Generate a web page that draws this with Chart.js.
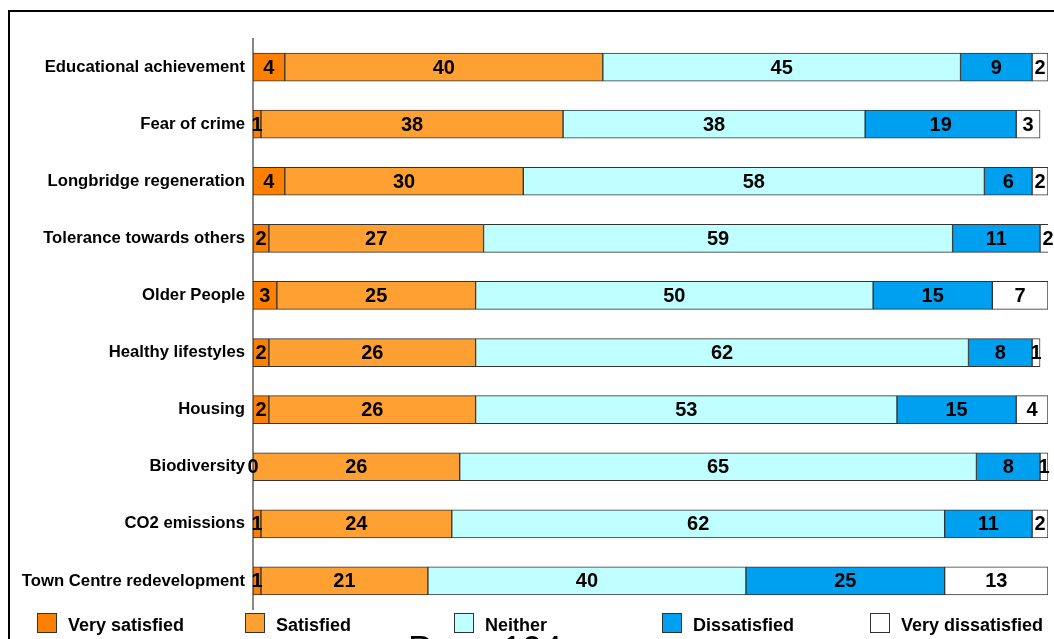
<!DOCTYPE html>
<html>
<head>
<meta charset="utf-8">
<script src="https://cdn.jsdelivr.net/npm/chart.js@4/dist/chart.umd.min.js"></script>
<style>
  html, body { margin: 0; padding: 0; background: #fff; overflow: hidden; }
  #wrap { position: relative; width: 1054px; height: 639px; overflow: hidden; }
  #frame { position: absolute; left: 8px; top: 10px; width: 1100px; height: 700px;
           border-top: 2px solid #000; border-left: 2px solid #000; box-sizing: border-box; }
  #chart { position: absolute; left: 0; top: 0; }
  #page { position: absolute; left: 408px; top: 632px; font: 36px/36px "Liberation Sans", Arial, sans-serif;
          color: #000; white-space: pre; }
</style>
</head>
<body>
<div id="wrap">
  <div id="frame"></div>
  <canvas id="chart" width="1054" height="639"></canvas>
  <div id="page">Page 104</div>
</div>
<script>
// Survey topics, top to bottom
const categories = [
  'Educational achievement',
  'Fear of crime',
  'Longbridge regeneration',
  'Tolerance towards others',
  'Older People',
  'Healthy lifestyles',
  'Housing',
  'Biodiversity',
  'CO2 emissions',
  'Town Centre redevelopment'
];

// Response shares (%) per topic
const verySatisfied    = [4, 1, 4, 2, 3, 2, 2, 0, 1, 1];
const satisfied        = [40, 38, 30, 27, 25, 26, 26, 26, 24, 21];
const neither          = [45, 38, 58, 59, 50, 62, 53, 65, 62, 40];
const dissatisfied     = [9, 19, 6, 11, 15, 8, 15, 8, 11, 25];
const veryDissatisfied = [2, 3, 2, 2, 7, 1, 4, 1, 2, 13];

const seriesNames  = ['Very satisfied', 'Satisfied', 'Neither', 'Dissatisfied', 'Very dissatisfied'];
const seriesValues = [verySatisfied, satisfied, neither, dissatisfied, veryDissatisfied];
const seriesColors = ['#FF8000', '#FFA033', '#C0FFFF', '#00A0F0', '#FFFFFF'];

const FONT = '"Liberation Sans", Arial, sans-serif';
Chart.defaults.font.family = FONT;

// Writes each segment's value in its middle
const segmentLabels = {
  id: 'segmentLabels',
  afterDatasetsDraw(chart) {
    const ctx = chart.ctx;
    ctx.save();
    ctx.font = 'bold 20px ' + FONT;
    ctx.fillStyle = '#000';
    ctx.textAlign = 'center';
    ctx.textBaseline = 'middle';
    chart.data.datasets.forEach((ds, i) => {
      const meta = chart.getDatasetMeta(i);
      meta.data.forEach((bar, j) => {
        const v = ds.data[j];
        const x = (bar.x + bar.base) / 2;
        ctx.fillText(String(v), x, bar.y + 1);
      });
    });
    ctx.restore();
  }
};

// Legend row along the bottom, evenly spaced
const bottomLegend = {
  id: 'bottomLegend',
  afterDraw(chart) {
    const ctx = chart.ctx;
    const startX = 37, step = 208.3, boxTop = 613, box = 19;
    ctx.save();
    ctx.font = 'bold 18px ' + FONT;
    ctx.textAlign = 'left';
    ctx.textBaseline = 'alphabetic';
    chart.data.datasets.forEach((ds, i) => {
      const x = Math.round(startX + i * step);
      ctx.fillStyle = ds.backgroundColor;
      ctx.fillRect(x + 0.5, boxTop + 0.5, box, box);
      ctx.strokeStyle = '#333';
      ctx.lineWidth = 1;
      ctx.strokeRect(x + 0.5, boxTop + 0.5, box, box);
      ctx.fillStyle = '#000';
      ctx.fillText(ds.label, x + 31, 631);
    });
    ctx.restore();
  }
};

new Chart(document.getElementById('chart'), {
  type: 'bar',
  data: {
    labels: categories,
    datasets: seriesNames.map((name, i) => ({
      label: name,
      data: seriesValues[i],
      backgroundColor: seriesColors[i],
      borderColor: '#333',
      borderWidth: 1,
      borderSkipped: false,
      barThickness: 28
    }))
  },
  options: {
    indexAxis: 'y',
    responsive: false,
    animation: false,
    devicePixelRatio: 1,
    layout: { padding: { left: 0, top: 38.5, right: 6, bottom: 29.5 } },
    plugins: {
      legend: { display: false },
      tooltip: { enabled: false }
    },
    scales: {
      x: {
        stacked: true,
        min: 0,
        max: 100,
        display: false
      },
      y: {
        stacked: true,
        afterFit(scale) { scale.width = 253; },
        grid: { display: false, drawTicks: false },
        border: { display: true, color: '#888', width: 2 },
        ticks: {
          padding: 8,
          color: '#000',
          font: { size: 16.7, weight: 'bold' }
        }
      }
    }
  },
  plugins: [segmentLabels, bottomLegend]
});
</script>
</body>
</html>
